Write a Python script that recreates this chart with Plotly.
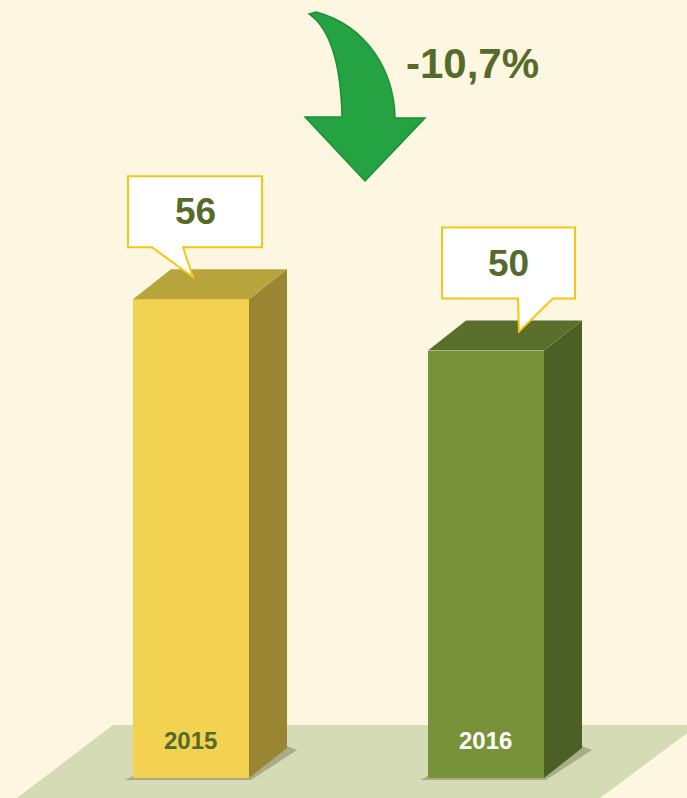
import plotly.graph_objects as go

# ---- data ----
years = ["2015", "2016"]
values = [56, 50]
change_label = "-10,7%"

# ---- styling ----
W, H = 687, 798
BG = "#FDF7E1"
FLOOR = "#D5DBB5"
TXT = "#556A2B"
front_cols = ["#F2D250", "#78923A"]
top_cols = ["#B8A43C", "#5B6F2D"]
side_cols = ["#9A8632", "#4C5F25"]
year_cols = [TXT, "#FFFFFF"]

PXX = 295.0   # px per x unit
PXY = 8.55    # px per y unit
X0PX = 191.0  # pixel position of category 0
Y0PX = 778.0  # pixel (from top) of value 0

def dxu(px):
    return px / PXX

def dyu(px):
    return px / PXY

xr = [-X0PX / PXX, (W - X0PX) / PXX]
yr = [-(H - Y0PX) / PXY, Y0PX / PXY]

bw = dxu(116)
hw = bw / 2
ddx, ddy = dxu(38), dyu(30)
xs = list(range(len(values)))

fig = go.Figure()

# front faces
fig.add_trace(go.Bar(x=xs, y=values, width=bw, marker=dict(color=front_cols, line=dict(width=0)),
                     hoverinfo="skip", showlegend=False))

# side & top faces
for i, v in enumerate(values):
    c = xs[i]
    fig.add_trace(go.Scatter(
        x=[c + hw, c + hw + ddx, c + hw + ddx, c + hw, c + hw],
        y=[0, ddy, v + ddy, v, 0],
        fill="toself", fillcolor=side_cols[i], mode="lines", line=dict(width=0),
        hoverinfo="skip", showlegend=False))
    fig.add_trace(go.Scatter(
        x=[c - hw, c - hw + ddx, c + hw + ddx, c + hw, c - hw],
        y=[v, v + ddy, v + ddy, v, v],
        fill="toself", fillcolor=top_cols[i], mode="lines", line=dict(width=0),
        hoverinfo="skip", showlegend=False))

shapes = []
# floor (decorative parallelogram, paper coords)
def P(px, py):
    return f"{px / W:.4f},{1 - py / H:.4f}"

shapes.append(dict(type="path", xref="paper", yref="paper", layer="below",
                   path=f"M {P(113,725)} L {P(698,725)} L {P(600,798)} L {P(17,798)} Z",
                   fillcolor=FLOOR, line=dict(width=0)))

# bar shadows
for i, v in enumerate(values):
    c = xs[i]
    shapes.append(dict(type="path", xref="x", yref="y", layer="below",
                       path=(f"M {c-hw-dxu(8)},{-dyu(2)} L {c+hw+dxu(2)},{-dyu(2)} "
                             f"L {c+hw+ddx+dxu(10)},{ddy-dyu(2)} L {c+hw+ddx},{ddy+dyu(2)} "
                             f"L {c-hw},{dyu(2)} Z"),
                       fillcolor="rgba(90,90,50,0.35)", line=dict(width=0)))

# callouts
box_l = [dxu(-63), dxu(-44)]
box_r = [dxu(71), dxu(89)]
tail_l = [dxu(-39), dxu(32)]
tail_r = [dxu(-8), dxu(67)]
tail_tip_x = [dxu(2), dxu(33)]
tail_tip_y = [dyu(22), dyu(19)]
gap = dyu(52)
bh = dyu(71)

annotations = []
for i, v in enumerate(values):
    c = xs[i]
    b = v + gap
    t = b + bh
    path = (f"M {c+box_l[i]},{b} L {c+tail_l[i]},{b} L {c+tail_tip_x[i]},{v+tail_tip_y[i]} "
            f"L {c+tail_r[i]},{b} L {c+box_r[i]},{b} L {c+box_r[i]},{t} L {c+box_l[i]},{t} Z")
    shapes.append(dict(type="path", xref="x", yref="y", path=path, fillcolor="#FFFFFF",
                       line=dict(color="#F5C518", width=2)))
    annotations.append(dict(x=c + (box_l[i] + box_r[i]) / 2, y=b + bh / 2, xref="x", yref="y",
                            xanchor="center", yanchor="middle",
                            text=f"<b>{v}</b>", showarrow=False,
                            font=dict(family="Liberation Sans, Arial", size=37, color=TXT)))
    annotations.append(dict(x=c - dxu(1), y=dyu(38), xref="x", yref="y",
                            xanchor="center", yanchor="middle",
                            text=f"<b>{years[i]}</b>", showarrow=False,
                            font=dict(family="Liberation Sans, Arial", size=24, color=year_cols[i])))

# curved down arrow (decorative)
arrow = (f"M {P(309,14)} C {P(332,30)} {P(341,70)} {P(342,117)} "
         f"L {P(305,117)} L {P(365,181)} L {P(425,118)} L {P(395,118)} "
         f"C {P(394,72)} {P(368,26)} {P(316,12)} Z")
shapes.append(dict(type="path", xref="paper", yref="paper", path=arrow,
                   fillcolor="#25A242", line=dict(color="#1C8F37", width=1.5)))

annotations.append(dict(x=472 / W, y=1 - 63 / H, xref="paper", yref="paper",
                        xanchor="center", yanchor="middle",
                        text=f"<b>{change_label}</b>", showarrow=False,
                        font=dict(family="Liberation Sans, Arial", size=42, color=TXT)))

fig.update_layout(
    width=W, height=H, margin=dict(l=0, r=0, t=0, b=0),
    paper_bgcolor=BG, plot_bgcolor=BG,
    xaxis=dict(range=xr, visible=False, fixedrange=True),
    yaxis=dict(range=yr, visible=False, fixedrange=True),
    shapes=shapes, annotations=annotations, showlegend=False, bargap=0,
)

fig.write_html("out.html", config={"displayModeBar": False},
               post_script="document.body.style.margin='0';document.body.style.padding='0';"
                           "document.body.style.overflow='hidden';"
                           "document.body.style.background='" + BG + "';")
